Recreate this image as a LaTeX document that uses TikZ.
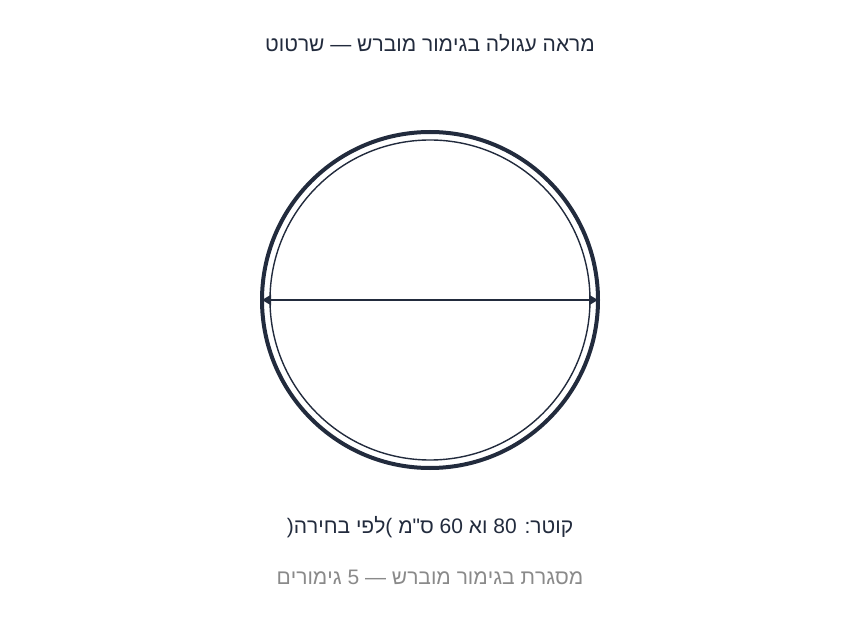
\documentclass[tikz,border=0pt]{standalone}
\usepackage{fontspec}
\setmainfont{Liberation Sans}[Ligatures=TeXOff]
\usetikzlibrary{arrows.meta}
\TeXXeTstate=1
\definecolor{navy}{HTML}{222B3D}
\definecolor{softgray}{HTML}{8A8A8A}
\tikzset{
  titletext/.style={text=navy, font=\fontsize{21}{25}\selectfont, inner sep=0pt},
  dimtext/.style={text=navy, font=\fontsize{21}{25}\selectfont, inner sep=0pt},
  subtext/.style={text=softgray, font=\fontsize{21}{25}\selectfont, inner sep=0pt},
  outerring/.style={draw=navy, line width=4pt},
  innerring/.style={draw=navy, line width=1.4pt},
  dimline/.style={draw=navy, line width=2pt, {Triangle[length=9pt,width=10pt]}-{Triangle[length=9pt,width=10pt]}}
}
\begin{document}
\begin{tikzpicture}[x=1pt,y=-1pt]
\path[use as bounding box] (0,0) rectangle (860,620);
\coordinate (c) at (430,300);
\coordinate (dl) at (262,300);
\coordinate (dr) at (598,300);
\draw[outerring] (c) circle[radius=168pt];
\draw[innerring] (c) circle[radius=160pt];
\draw[dimline] (dl) -- (dr);
\node[titletext] (title) at (430,43) {\beginR מראה עגולה בגימור מוברש — שרטוט\endR};
\node[dimtext] (dim) at (430,527) {\beginR קוטר\kern0pt: 80 וא 60 ס"מ (\kern0pt לפי בחירה\kern0pt)\endR};
\node[subtext] (sub) at (430,577) {\beginR מסגרת בגימור מוברש — 5 גימורים\endR};
\end{tikzpicture}
\end{document}
